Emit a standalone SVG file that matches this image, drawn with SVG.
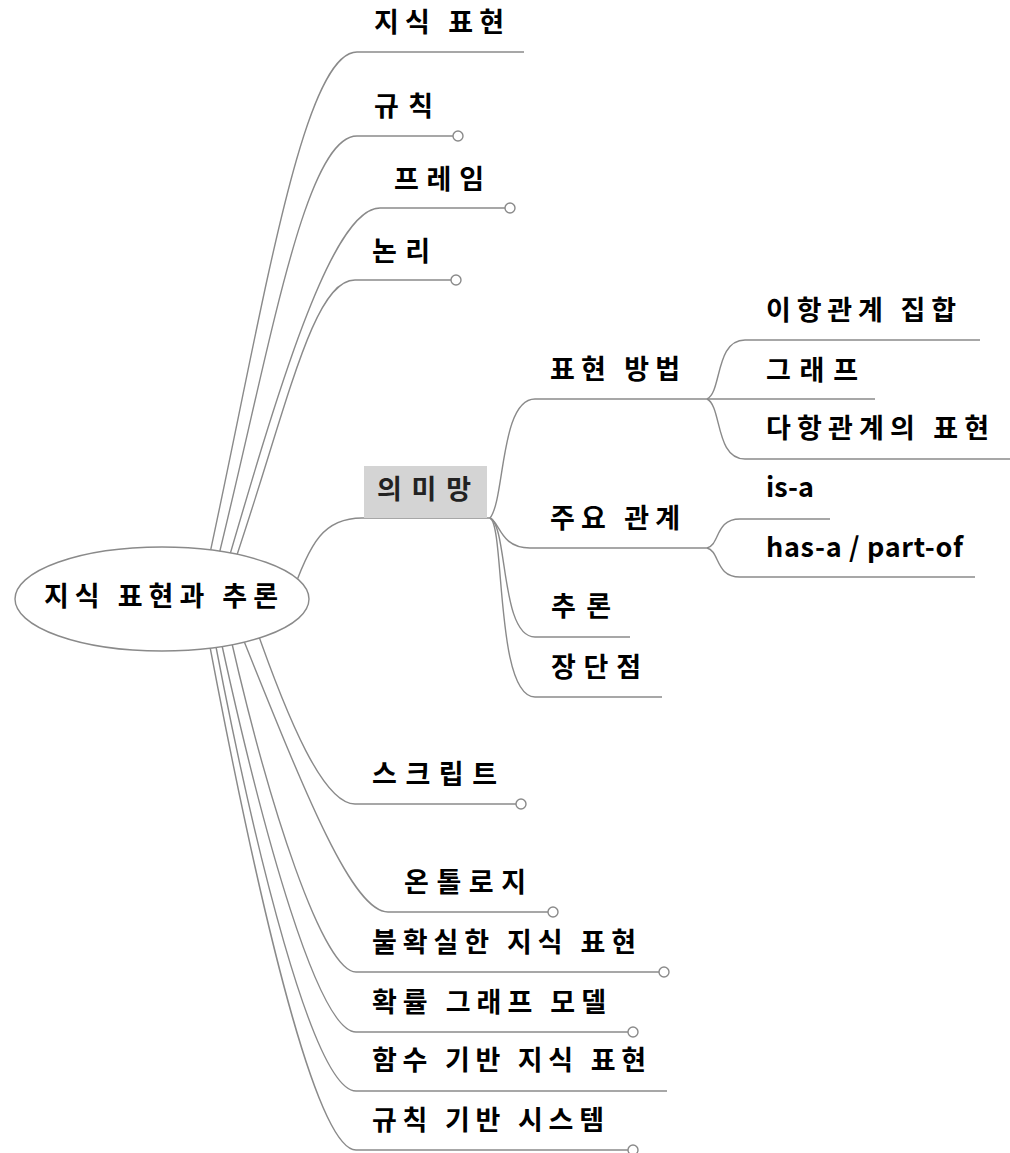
<svg xmlns="http://www.w3.org/2000/svg" width="1010" height="1153" viewBox="0 0 1010 1153">
<style>
.c{fill:none;stroke:#8a8a8a;stroke-width:1.4}
.e{fill:#fff;stroke:#8a8a8a;stroke-width:1.4}
.t{font-family:"Noto Sans CJK KR","Noto Sans",sans-serif;font-weight:bold;font-size:27px;fill:#000}
.n{fill:#222}
</style>
<rect width="1010" height="1153" fill="#fff"/>
<g id="connectors">
<path class="c" d="M200,599 C260,330 300,52 357,52 L524,52"/>
<path class="c" d="M208,599 C267,368 302,136 357,136 L453,136"/>
<path class="c" d="M217,599 C275,400 330,208 380,208 L505,208"/>
<path class="c" d="M222,599 C285,420 310,280 355,280 L451,280"/>
<path class="c" d="M290,600 C310,540 325,518 362,518 L490,518"/>
<path class="c" d="M246,599 C290,730 325,804 355,804 L516,804"/>
<path class="c" d="M227,599 C300,780 350,912 388,912 L548,912"/>
<path class="c" d="M222,599 C270,820 325,972 356,972 L659,972"/>
<path class="c" d="M212,599 C265,850 320,1032 356,1032 L628,1032"/>
<path class="c" d="M207,599 C255,860 315,1091 356,1091 L667,1091"/>
<path class="c" d="M201,599 C255,890 315,1150 356,1150 L628,1150"/>
<path class="c" d="M490,518 C505,500 500,399 535,399 L875,399"/>
<path class="c" d="M490,518 C500,522 500,548 530,548 L707,548"/>
<path class="c" d="M490,518 C508,525 500,637 535,637 L630,637"/>
<path class="c" d="M490,518 C505,525 495,697 535,697 L662,697"/>
<path class="c" d="M707,399 C722,392 715,340 745,340 L980,340"/>
<path class="c" d="M707,399 C722,406 715,459 745,459 L1010,459"/>
<path class="c" d="M707,548 C720,545 715,519 740,519 L830,519"/>
<path class="c" d="M707,548 C720,551 715,577 740,577 L975,577"/>
<circle class="e" cx="458" cy="136" r="5"/>
<circle class="e" cx="510" cy="208" r="5"/>
<circle class="e" cx="456" cy="280" r="5"/>
<circle class="e" cx="521" cy="804" r="5"/>
<circle class="e" cx="553" cy="912" r="5"/>
<circle class="e" cx="664" cy="972" r="5"/>
<circle class="e" cx="633" cy="1032" r="5"/>
<circle class="e" cx="633" cy="1150" r="5"/>
</g>
<g id="root">
<ellipse class="e" cx="162" cy="599" rx="147" ry="52"/>
<text class="t" x="44" y="606" textLength="234">지식 표현과 추론</text>
</g>
<g id="n-jisik"><text class="t" x="374" y="32" textLength="130">지식 표현</text></g>
<g id="n-gyuchik"><text class="t" x="374" y="116" textLength="59">규칙</text></g>
<g id="n-frame"><text class="t" x="394" y="189" textLength="90">프레임</text></g>
<g id="n-nonri"><text class="t" x="372" y="261" textLength="58">논리</text></g>
<g id="n-semnet">
<rect x="364" y="466" width="123" height="52" fill="#d4d4d4"/>
<text class="t n" x="377" y="499" textLength="94">의미망</text>
</g>
<g id="n-method"><text class="t" x="550" y="379" textLength="130">표현 방법</text></g>
<g id="n-relation"><text class="t" x="550" y="528" textLength="130">주요 관계</text></g>
<g id="n-inference"><text class="t" x="551" y="616" textLength="60">추론</text></g>
<g id="n-proscons"><text class="t" x="551" y="677" textLength="90">장단점</text></g>
<g id="n-binary"><text class="t" x="766" y="320" textLength="190">이항관계 집합</text></g>
<g id="n-graph"><text class="t" x="766" y="380" textLength="92">그래프</text></g>
<g id="n-nary"><text class="t" x="766" y="438" textLength="223">다항관계의 표현</text></g>
<g id="n-isa"><text class="t" x="766" y="497" textLength="48">is-a</text></g>
<g id="n-hasa"><text class="t" x="766" y="557" textLength="197">has-a / part-of</text></g>
<g id="n-script"><text class="t" x="372" y="784" textLength="125">스크립트</text></g>
<g id="n-ontology"><text class="t" x="404" y="892" textLength="122">온톨로지</text></g>
<g id="n-uncertain"><text class="t" x="372" y="952" textLength="264">불확실한 지식 표현</text></g>
<g id="n-prob"><text class="t" x="372" y="1012" textLength="234">확률 그래프 모델</text></g>
<g id="n-func"><text class="t" x="372" y="1070" textLength="274">함수 기반 지식 표현</text></g>
<g id="n-rulesys"><text class="t" x="372" y="1130" textLength="232">규칙 기반 시스템</text></g>
</svg>
